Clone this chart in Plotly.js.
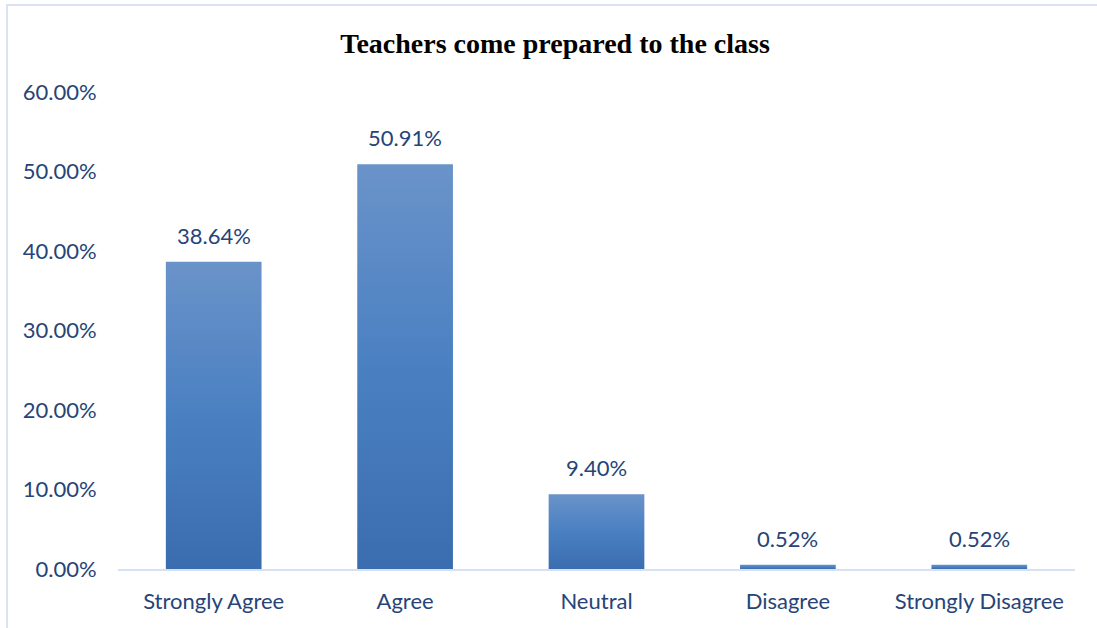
<!DOCTYPE html>
<html>
<head>
<meta charset="utf-8">
<script src="https://cdn.plot.ly/plotly-3.0.1.min.js"></script>
<style>
  html, body { margin: 0; padding: 0; background: #fff; overflow: hidden; }
  #wrap { position: relative; width: 1097px; height: 628px; }
  #chart { width: 1097px; height: 628px; }
  #frame { position: absolute; left: 6px; top: 4px; width: 1200px; height: 700px;
           border-left: 2px solid #dae3f3; border-top: 2px solid #dae3f3; pointer-events: none; }
</style>
</head>
<body>
<div id="wrap">
  <div id="chart"></div>
  <div id="frame"></div>
</div>
<script>
const categories = ["Strongly Agree", "Agree", "Neutral", "Disagree", "Strongly Disagree"];
const values = [38.64, 50.91, 9.40, 0.52, 0.52];
const valueLabels = ["38.64%", "50.91%", "9.40%", "0.52%", "0.52%"];
const yTickValues = [0, 10, 20, 30, 40, 50, 60];
const yTickLabels = ["0.00%", "10.00%", "20.00%", "30.00%", "40.00%", "50.00%", "60.00%"];
const chartTitle = "Teachers come prepared to the class";

const textColor = "#264478";
const labelFont = { family: "Lato, 'Open Sans', sans-serif", size: 22, color: textColor };

const trace = {
  type: "bar",
  x: categories,
  y: values,
  marker: { color: "#4a7dbf", line: { width: 0 } },
  hoverinfo: "skip"
};

const annotations = categories.map((c, i) => ({
  x: c, y: values[i], xref: "x", yref: "y",
  text: valueLabels[i], showarrow: false,
  yanchor: "bottom", yshift: 11,
  font: labelFont
}));

const layout = {
  width: 1097, height: 628,
  margin: { l: 118, r: 22, t: 92, b: 59 },
  paper_bgcolor: "#ffffff",
  plot_bgcolor: "#ffffff",
  bargap: 0.5,
  showlegend: false,
  title: {
    text: "<b>" + chartTitle + "</b>",
    xref: "container", yref: "container",
    x: 0.506, y: 0.931, xanchor: "center", yanchor: "middle",
    font: { family: "'Liberation Serif', 'Times New Roman', serif", size: 28, color: "#000000" }
  },
  xaxis: {
    type: "category",
    showgrid: false,
    showline: true, linecolor: "#d6e1f2", linewidth: 2,
    ticks: "outside", ticklen: 12, tickcolor: "rgba(0,0,0,0)",
    tickfont: labelFont,
    zeroline: false
  },
  yaxis: {
    range: [0, 60],
    showgrid: false, zeroline: false, showline: false,
    tickvals: yTickValues, ticktext: yTickLabels,
    ticks: "outside", ticklen: 16, tickcolor: "rgba(0,0,0,0)",
    tickfont: labelFont
  },
  annotations: annotations
};

Plotly.newPlot("chart", [trace], layout, { staticPlot: true, displayModeBar: false }).then(gd => {
  const svg = gd.querySelector("svg.main-svg");
  const ns = "http://www.w3.org/2000/svg";
  let defs = svg.querySelector("defs");
  if (!defs) { defs = document.createElementNS(ns, "defs"); svg.insertBefore(defs, svg.firstChild); }
  const grad = document.createElementNS(ns, "linearGradient");
  grad.setAttribute("id", "barGrad");
  grad.setAttribute("x1", "0"); grad.setAttribute("y1", "0");
  grad.setAttribute("x2", "0"); grad.setAttribute("y2", "1");
  [["0%", "#6a93c9"], ["50%", "#4a80c2"], ["100%", "#3a6daf"]].forEach(([o, c]) => {
    const s = document.createElementNS(ns, "stop");
    s.setAttribute("offset", o); s.setAttribute("stop-color", c);
    grad.appendChild(s);
  });
  defs.appendChild(grad);
  gd.querySelectorAll(".barlayer .point path").forEach(p => { p.style.fill = "url(#barGrad)"; });
});
</script>
</body>
</html>
